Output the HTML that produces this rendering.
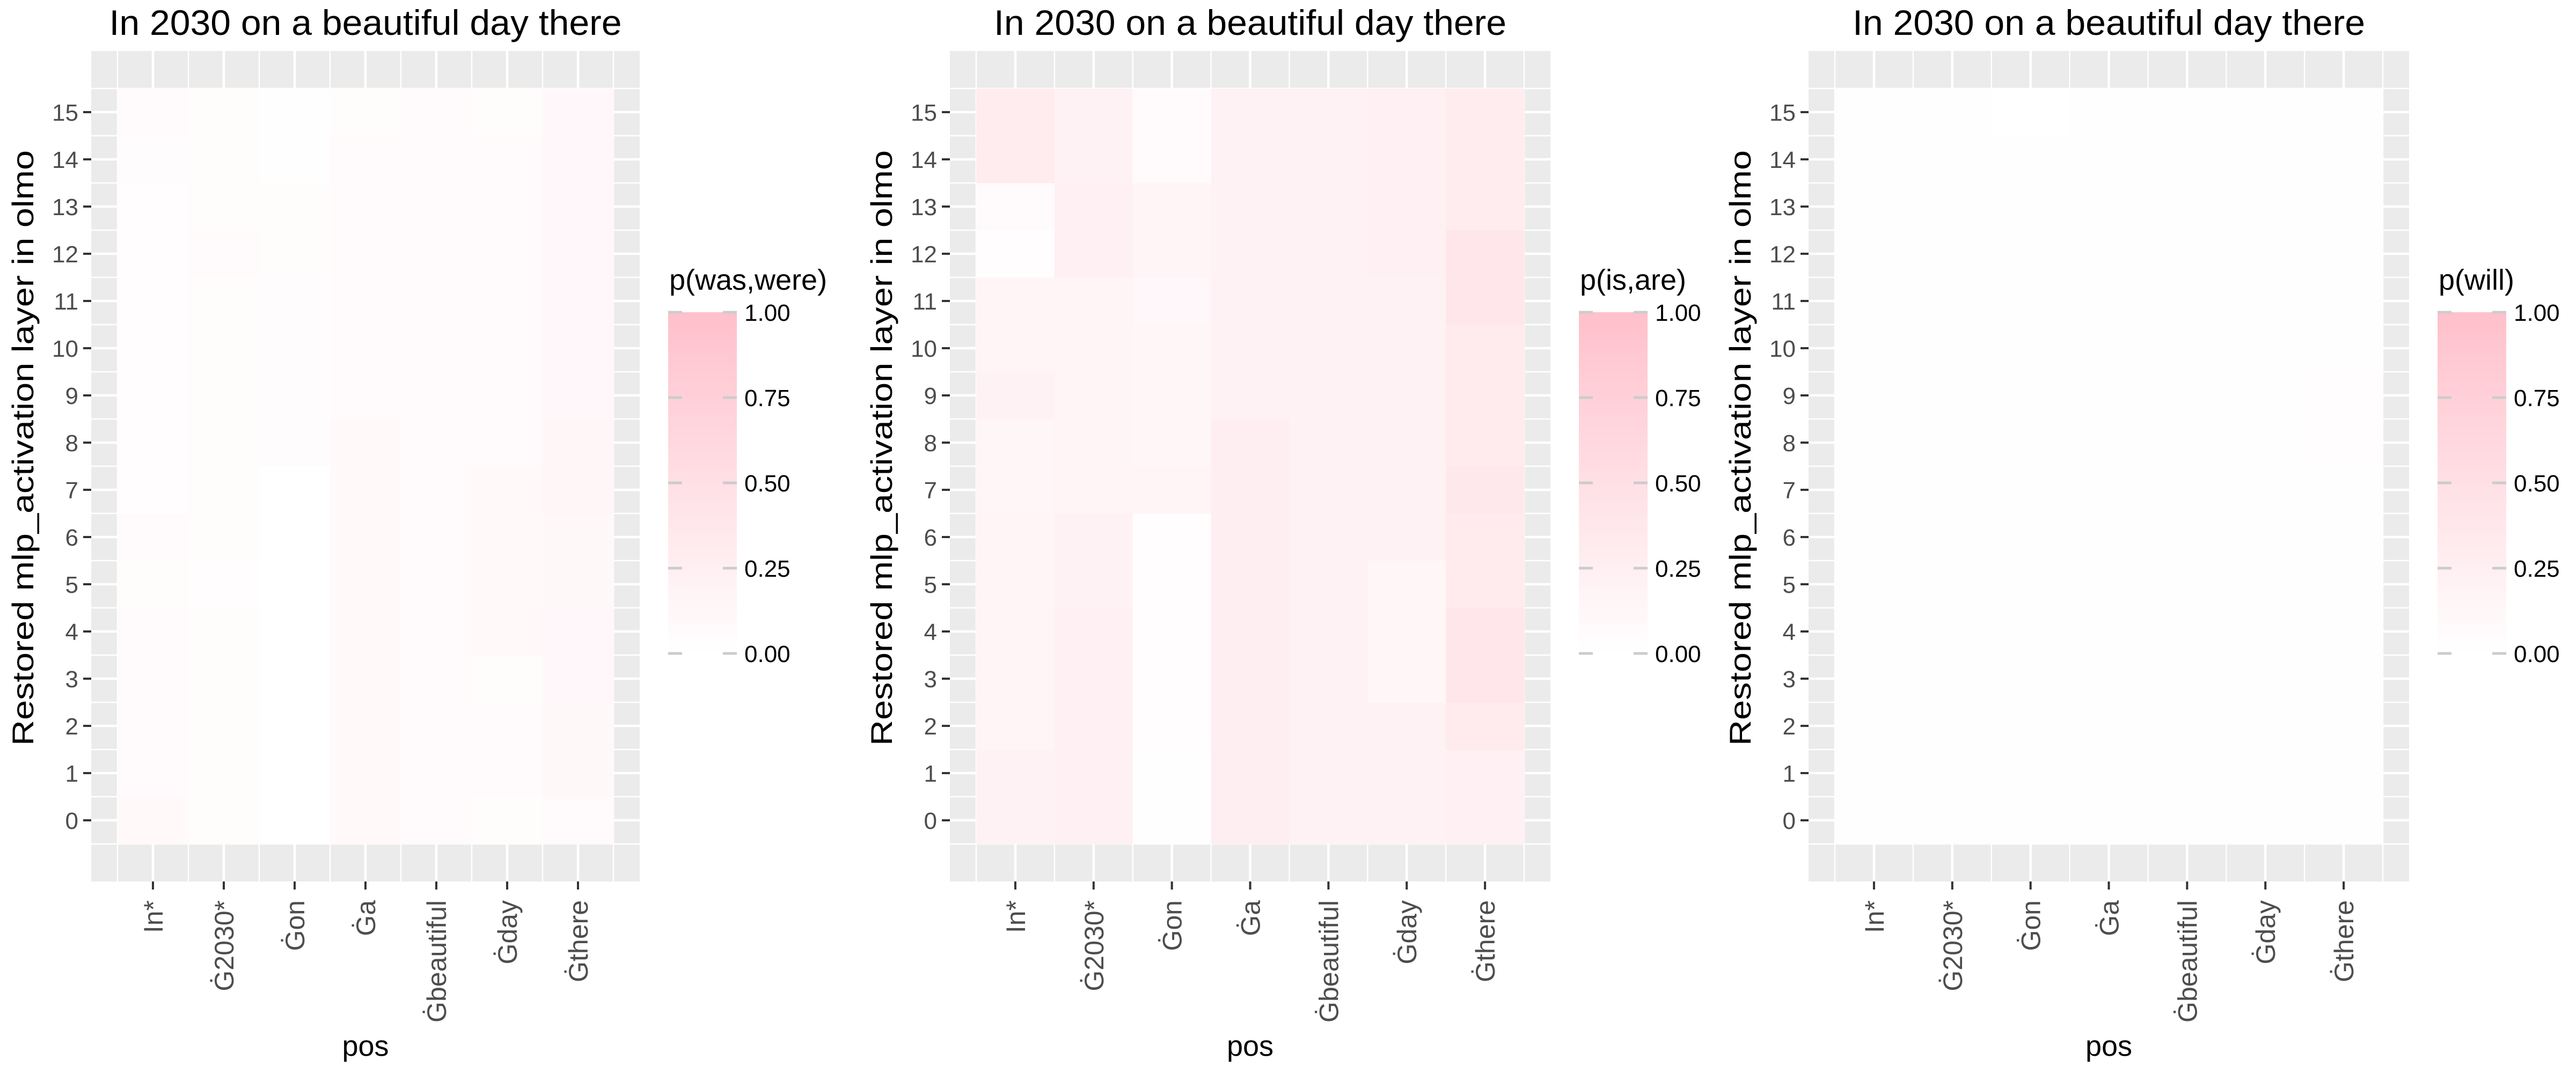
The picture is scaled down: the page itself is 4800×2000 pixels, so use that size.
<!DOCTYPE html>
<html>
<head>
<meta charset="utf-8">
<style>
html,body{margin:0;padding:0;background:#fff;}
svg{display:block;font-family:"Liberation Sans",Arial,sans-serif;}
</style>
</head>
<body>
<svg id="chart" xmlns="http://www.w3.org/2000/svg" width="4800" height="2000" viewBox="0 0 4800 2000"></svg>
<script>
// ---- data ----
const positions = ["In*", "\u01202030*", "\u0120on", "\u0120a", "\u0120beautiful", "\u0120day", "\u0120there"];
const layers = [0,1,2,3,4,5,6,7,8,9,10,11,12,13,14,15];
const legendTicks = [0, 0.25, 0.5, 0.75, 1];
const legendTickLabels = ["0.00", "0.25", "0.50", "0.75", "1.00"];
const panelTitles = ["p(was,were)", "p(is,are)", "p(will)"];
const plotTitle = "In 2030 on a beautiful day there";
// values per position, ordered by layer 0..15
const wasWere = [
  [0.09,0.06,0.06,0.06,0.06,0.05,0.075,0.025,0.025,0.025,0.025,0.025,0.025,0.025,0.04,0.075],
  [0.05,0.05,0.05,0.05,0.05,0.025,0.05,0.05,0.05,0.05,0.05,0.05,0.06,0.05,0.05,0.05],
  [0,0,0,0,0,0,0,0,0.04,0.04,0.04,0.04,0.05,0.05,0.01,0.01],
  [0.1,0.1,0.1,0.1,0.09,0.09,0.09,0.09,0.09,0.06,0.06,0.06,0.06,0.06,0.06,0.05],
  [0.06,0.06,0.06,0.06,0.06,0.06,0.06,0.06,0.06,0.06,0.06,0.06,0.06,0.06,0.06,0.075],
  [0.05,0.075,0.075,0.05,0.09,0.09,0.09,0.09,0.075,0.075,0.075,0.075,0.075,0.075,0.075,0.05],
  [0.075,0.11,0.11,0.125,0.125,0.11,0.11,0.15,0.15,0.125,0.125,0.125,0.125,0.125,0.125,0.125]
];
const isAre = [
  [0.21,0.21,0.18,0.18,0.18,0.18,0.18,0.15,0.15,0.21,0.18,0.18,0.03,0.06,0.3,0.3],
  [0.24,0.24,0.24,0.24,0.24,0.21,0.21,0.18,0.18,0.18,0.18,0.18,0.24,0.24,0.21,0.21],
  [0.015,0.015,0.03,0.03,0.03,0.03,0.03,0.18,0.15,0.15,0.15,0.12,0.18,0.18,0.06,0.06],
  [0.27,0.27,0.27,0.27,0.27,0.27,0.27,0.27,0.27,0.21,0.21,0.21,0.21,0.21,0.21,0.21],
  [0.21,0.21,0.21,0.21,0.21,0.21,0.21,0.21,0.21,0.21,0.21,0.21,0.21,0.21,0.21,0.21],
  [0.21,0.21,0.21,0.15,0.15,0.15,0.21,0.21,0.21,0.21,0.21,0.21,0.24,0.24,0.24,0.24],
  [0.24,0.24,0.33,0.39,0.39,0.33,0.33,0.36,0.33,0.33,0.33,0.39,0.39,0.3,0.3,0.3]
];
const will = [
  [0.012,0.012,0.012,0.012,0.012,0.012,0.012,0.012,0.012,0.012,0.012,0.012,0.012,0.012,0.012,0.012],
  [0.012,0.012,0.012,0.012,0.012,0.012,0.012,0.012,0.012,0.012,0.012,0.012,0.012,0.012,0.012,0.012],
  [0.01,0.01,0.01,0.01,0.01,0.01,0.01,0.01,0.01,0.01,0.01,0.01,0.01,0.01,0.01,0.006],
  [0.012,0.012,0.012,0.012,0.012,0.012,0.012,0.012,0.012,0.012,0.012,0.012,0.012,0.012,0.012,0.012],
  [0.012,0.012,0.012,0.012,0.012,0.012,0.012,0.012,0.012,0.012,0.012,0.012,0.012,0.012,0.012,0.012],
  [0.012,0.012,0.012,0.012,0.012,0.012,0.012,0.012,0.012,0.012,0.012,0.012,0.012,0.012,0.012,0.012],
  [0.016,0.016,0.016,0.016,0.016,0.016,0.016,0.016,0.03,0.03,0.016,0.016,0.016,0.016,0.016,0.016]
];
const panelValues = [wasWere, isAre, will];

// ---- drawing ----
const NS = "http://www.w3.org/2000/svg";
const svg = document.getElementById("chart");
function mk(tag, attrs, parent) {
  const e = document.createElementNS(NS, tag);
  for (const k in attrs) e.setAttribute(k, attrs[k]);
  (parent || svg).appendChild(e);
  return e;
}
function fillFor(v) {
  const t = Math.max(0, Math.min(1, v));
  const r = 255, g = Math.round(255 - 63 * t), b = Math.round(255 - 52 * t);
  return "rgb(" + r + "," + g + "," + b + ")";
}
const defs = mk("defs", {});
const grad = mk("linearGradient", {id: "legendGrad", x1: "0", y1: "1", x2: "0", y2: "0"}, defs);
mk("stop", {offset: "0", "stop-color": "#ffffff"}, grad);
mk("stop", {offset: "1", "stop-color": "#ffc0cb"}, grad);

const panelTop = 95, panelBottom = 1643, tileTop = 165, rowH = 88, margin = 49;

for (let p = 0; p < 3; p++) {
  const ox = 1600 * p;
  const left = ox + 170;
  const right = ox + (p === 0 ? 1192 : 1289);
  const colW = (right - left - 2 * margin) / positions.length;
  const xPos = i => left + margin + (i + 0.5) * colW;
  const yPos = l => tileTop + (layers.length - 1 - l + 0.5) * rowH;
  const g = mk("g", {});
  
  

  const bg = mk("rect", {x: left, y: panelTop, width: right - left, height: panelBottom - panelTop, fill: "#ebebeb"}, g);
  
  

  for (let i = -0.5; i <= positions.length - 0.5; i += 1) {
    const x = xPos(i);
    mk("line", {x1: x, x2: x, y1: panelTop, y2: panelBottom, stroke: "#fff", "stroke-width": 2.4}, g);
  }
  for (let i = 0; i < positions.length; i++) {
    const x = xPos(i);
    mk("line", {x1: x, x2: x, y1: panelTop, y2: panelBottom, stroke: "#fff", "stroke-width": 4.6}, g);
  }
  for (let l = -0.5; l <= layers.length - 0.5; l += 1) {
    const y = yPos(l);
    mk("line", {x1: left, x2: right, y1: y, y2: y, stroke: "#fff", "stroke-width": 2.4}, g);
  }
  for (let l = 0; l < layers.length; l++) {
    const y = yPos(l);
    mk("line", {x1: left, x2: right, y1: y, y2: y, stroke: "#fff", "stroke-width": 4.6}, g);
  }

  const vals = panelValues[p];
  for (let i = 0; i < positions.length; i++) {
    for (let l = 0; l < layers.length; l++) {
      const c = mk("rect", {
        x: xPos(i) - colW / 2, y: yPos(l) - rowH / 2,
        width: colW + 0.6, height: rowH + 0.6, fill: fillFor(vals[i][l])
      }, g);
      
      
    }
  }

  for (let l = 0; l < layers.length; l++) {
    const y = yPos(l);
    mk("line", {x1: left - 15, x2: left, y1: y, y2: y, stroke: "#333", "stroke-width": 4}, g);
    const t = mk("text", {x: left - 24, y: y + 16, "font-size": 44, fill: "#4d4d4d", "text-anchor": "end"}, g);
    t.textContent = String(layers[l]);
    
    
  }
  for (let i = 0; i < positions.length; i++) {
    const x = xPos(i);
    mk("line", {x1: x, x2: x, y1: panelBottom, y2: panelBottom + 15, stroke: "#333", "stroke-width": 4}, g);
    const t = mk("text", {x: 0, y: 0, "font-size": 50, fill: "#4d4d4d", "text-anchor": "end",
      transform: "translate(" + (x + 18) + "," + (panelBottom + 35) + ") rotate(-90)"}, g);
    t.textContent = positions[i];
    
    
  }

  const cx = (left + right) / 2;
  const tt = mk("text", {x: cx, y: 65, "font-size": 66, fill: "#000", "text-anchor": "middle", textLength: 955, lengthAdjust: "spacingAndGlyphs"}, g);
  tt.textContent = plotTitle;
  
  

  const xt = mk("text", {x: xPos((positions.length - 1) / 2), y: 1968, "font-size": 54, fill: "#000", "text-anchor": "middle"}, g);
  xt.textContent = "pos";
  
  

  const yt = mk("text", {x: 0, y: 0, "font-size": 56, fill: "#000", "text-anchor": "middle", textLength: 1110, lengthAdjust: "spacingAndGlyphs",
    transform: "translate(" + (ox + 62) + "," + 835 + ") rotate(-90)"}, g);
  yt.textContent = "Restored mlp_activation layer in olmo";
  
  

  const lg = mk("g", {}, g);
  
  
  const barL = ox + (p === 0 ? 1245 : 1342), barW = 128, barTop = 582, barBot = 1218;
  const legY = v => barBot - v * (barBot - barTop);
  const lt = mk("text", {x: barL + 2, y: 540, "font-size": 54, fill: "#000"}, lg);
  lt.textContent = panelTitles[p];
  
  
  const bar = mk("rect", {x: barL, y: barTop, width: barW, height: barBot - barTop, fill: "url(#legendGrad)"}, lg);
  
  
  for (let k = 0; k < legendTicks.length; k++) {
    const y = legY(legendTicks[k]);
    mk("line", {x1: barL, x2: barL + 26, y1: y, y2: y, stroke: "#cccccc", "stroke-width": 5}, lg);
    mk("line", {x1: barL + barW - 26, x2: barL + barW, y1: y, y2: y, stroke: "#cccccc", "stroke-width": 5}, lg);
    const l = mk("text", {x: barL + barW + 14, y: y + 16, "font-size": 44, fill: "#000"}, lg);
    l.textContent = legendTickLabels[k];
    
    
  }
}
</script>
</body>
</html>
